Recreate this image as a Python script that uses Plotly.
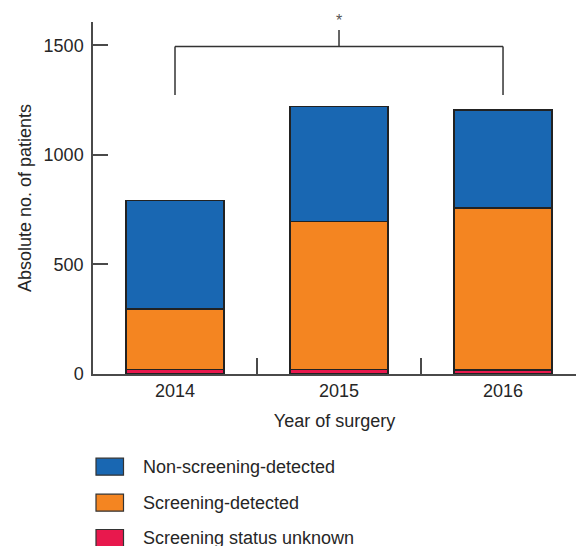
import plotly.graph_objects as go

years = ["2014", "2015", "2016"]
series_names = ["Non-screening-detected", "Screening-detected", "Screening status unknown"]
unknown = [20, 20, 18]
screening = [277, 677, 740]
non_screening = [495, 524, 447]
y_ticks = [0, 500, 1000, 1500]

colors = {"Non-screening-detected": "#1967B2",
          "Screening-detected": "#F48521",
          "Screening status unknown": "#E8184D"}
FONT = "Liberation Sans, Arial, sans-serif"
TXT = "#262626"
AX = "#4a4a4a"

W, H = 576, 546
ML, MR, MT, MB = 93, 0, 22, 172
PW, PH = W - ML - MR, H - MT - MB

fig = go.Figure()
for name, vals in [("Screening status unknown", unknown),
                   ("Screening-detected", screening),
                   ("Non-screening-detected", non_screening)]:
    fig.add_trace(go.Bar(x=years, y=vals, name=name, width=0.6,
                         marker=dict(color=colors[name], line=dict(color="#222222", width=1.5)),
                         showlegend=False))

# custom legend / paper helpers
def px2paper_x(px):
    return (px - ML) / PW

def px2paper_y(py):
    return (H - MB - py) / PH

# significance bracket
lc = dict(color="#333333", width=1.5)
fig.add_shape(type="line", x0=0, x1=2, y0=1495, y1=1495, xref="x", yref="y", line=lc)
fig.add_shape(type="line", x0=0, x1=0, y0=1274, y1=1495, xref="x", yref="y", line=lc)
fig.add_shape(type="line", x0=2, x1=2, y0=1274, y1=1495, xref="x", yref="y", line=lc)
fig.add_shape(type="line", x0=1, x1=1, y0=1495, y1=1571, xref="x", yref="y", line=lc)
fig.add_annotation(x=1, y=px2paper_y(21), xref="x", yref="paper", text="*", showarrow=False,
                   font=dict(family=FONT, size=16, color="#555555"), yanchor="middle")

legend_rows = [466.7, 502.7, 538.0]
for name, yc in zip(series_names, legend_rows):
    fig.add_shape(type="rect", xref="paper", yref="paper",
                  x0=px2paper_x(96), x1=px2paper_x(123.5),
                  y0=px2paper_y(yc - 8.5), y1=px2paper_y(yc + 8.5),
                  fillcolor=colors[name], line=dict(color="#333333", width=1.2))
    fig.add_annotation(xref="paper", yref="paper", x=px2paper_x(141), y=px2paper_y(yc),
                       text=name, showarrow=False, xanchor="left", yanchor="middle",
                       font=dict(family=FONT, size=18, color=TXT))

fig.update_layout(
    width=W, height=H, barmode="stack",
    margin=dict(l=ML, r=MR, t=MT, b=MB, pad=0),
    plot_bgcolor="white", paper_bgcolor="white",
    font=dict(family=FONT, size=18, color=TXT),
    xaxis=dict(type="category", range=[-0.5, 2.445], showline=True, linecolor=AX, linewidth=1.5,
               ticks="inside", tickson="boundaries", ticklen=16, tickcolor=AX, tickwidth=1.5,
               showgrid=False, zeroline=False,
               title=dict(text="Year of surgery", standoff=14, font=dict(size=18, color=TXT)),
               tickfont=dict(size=18, color=TXT)),
    yaxis=dict(range=[0, 1607], tickvals=y_ticks, showline=True, linecolor=AX, linewidth=1.5,
               ticks="inside", ticklen=15, tickcolor=AX, tickwidth=1.5,
               showgrid=False, zeroline=False, ticklabelstandoff=4,
               title=dict(text="Absolute no. of patients", standoff=7, font=dict(size=18, color=TXT)),
               tickfont=dict(size=18, color=TXT)),
)

fig.write_html("out.html", config={"displayModeBar": False},
               post_script="document.body.style.margin='0';document.body.style.overflow='hidden';")
